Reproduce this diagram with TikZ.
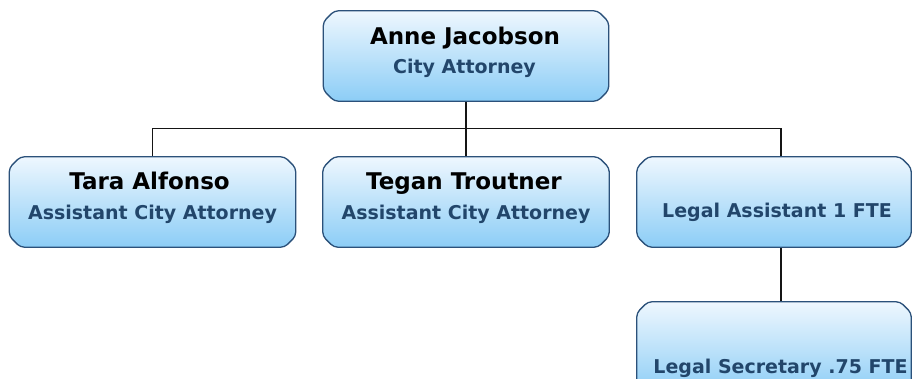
\documentclass[tikz,border=0pt]{standalone}
\usepackage{fontspec}
\setmainfont{DejaVu Sans}
\definecolor{boxedge}{HTML}{2B517A}
\definecolor{boxtop}{HTML}{EEF7FE}
\definecolor{boxbot}{HTML}{8CCDF6}
\definecolor{roletext}{HTML}{22466B}
\definecolor{wirecol}{HTML}{151515}
\tikzset{
  slot/.style={rectangle, inner sep=0pt, minimum width=#1, minimum height=90pt},
  slot/.default=286pt,
  boxface/.style={draw=boxedge, line width=1.3pt, top color=boxtop,
    bottom color=boxbot, rounded corners=4pt},
  boxshadow/.style={fill=black, opacity=0.25, rounded corners=4pt},
  % outline with cut corners around a named node
  cutout/.style={insert path={
    ([xshift=11pt]#1.north west) -- ([xshift=-11pt]#1.north east)
    -- ([yshift=-11pt]#1.north east) -- ([yshift=11pt]#1.south east)
    -- ([xshift=-11pt]#1.south east) -- ([xshift=11pt]#1.south west)
    -- ([yshift=11pt]#1.south west) -- ([yshift=-11pt]#1.north west) -- cycle}},
  person/.style={anchor=base, font=\bfseries\fontsize{23}{26}\selectfont, text=black, inner sep=0pt},
  role/.style={anchor=base, font=\bfseries\fontsize{19}{22}\selectfont, text=roletext, inner sep=0pt},
  wire/.style={draw=wirecol, line width=1.7pt}
}
\newcommand\orgshape[1]{%
  \path[boxshadow, shift={(0.8pt,-2.6pt)}, cutout=#1];
  \path[boxface, cutout=#1];}
\begin{document}
\begin{tikzpicture}[x=1pt,y=1pt]
  \path[use as bounding box] (0,0) rectangle (912,-379);
  \clip (0,0) rectangle (912,-379);
  \fill[white] (0,0) rectangle (912,-379);

  % box slots
  \node[slot=285pt] (ceo) at (466,-56) {};
  \node[slot] (tara) at (152.5,-202) {};
  \node[slot] (tegan) at (466,-202) {};
  \node[slot=274pt] (la) at (774,-202) {};
  \node[slot=274pt, minimum height=92pt] (sec) at (774,-348) {};

  % connectors
  \coordinate (bus) at (466,-128.5);
  \draw[wire] (ceo.south) -- (bus);
  \draw[wire] (tara.north) |- (bus) -| ([xshift=6.7pt]la.north);
  \draw[wire] (tegan.north) -- (bus);
  \draw[wire] ([xshift=6.7pt]la.south) -- ([xshift=6.7pt]sec.north);

  % boxes
  \orgshape{ceo}
  \orgshape{tara}
  \orgshape{tegan}
  \orgshape{la}
  \orgshape{sec}

  % texts
  \node[person] (ceoname) at (465,-45) {Anne Jacobson};
  \node[role] (ceorole) at (464.5,-74) {City Attorney};
  \node[person] (taraname) at (149.5,-190) {Tara Alfonso};
  \node[role] (tararole) at (152.5,-220) {Assistant City Attorney};
  \node[person] (teganname) at (464,-190) {Tegan Troutner};
  \node[role] (teganrole) at (466,-220) {Assistant City Attorney};
  \node[role] (larole) at (777,-218) {Legal Assistant 1 FTE};
  \node[role] (secrole) at (780.5,-373) {Legal Secretary .75 FTE};
\end{tikzpicture}
\end{document}
